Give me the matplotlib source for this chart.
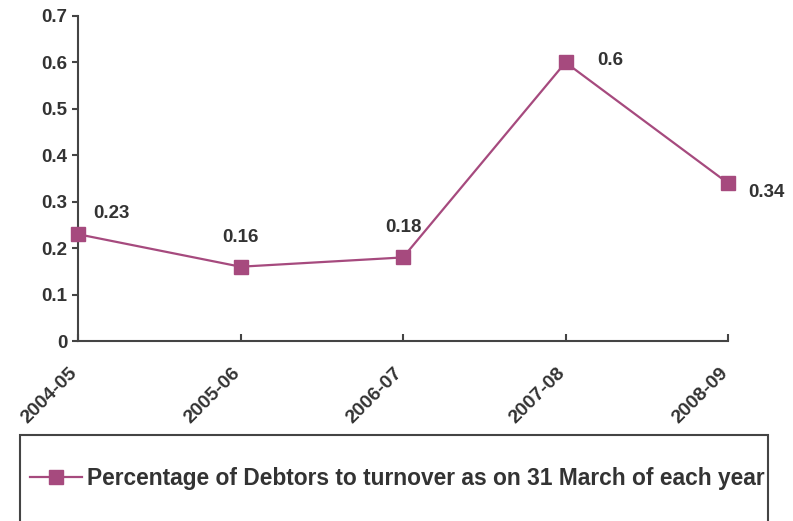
import matplotlib
matplotlib.use("Agg")
import matplotlib.pyplot as plt
from matplotlib.patches import Rectangle
from matplotlib.transforms import ScaledTranslation

years = ["2004-05", "2005-06", "2006-07", "2007-08", "2008-09"]
debtor_pct = [0.23, 0.16, 0.18, 0.6, 0.34]
y_ticks = [0, 0.1, 0.2, 0.3, 0.4, 0.5, 0.6, 0.7]
y_tick_labels = ["0", "0.1", "0.2", "0.3", "0.4", "0.5", "0.6", "0.7"]
series_name = "Percentage of Debtors to turnover as on 31 March of each year"

plt.rcParams["font.family"] = ["Liberation Sans", "DejaVu Sans"]
plt.rcParams["font.weight"] = "bold"

W, H = 793, 521
fig = plt.figure(figsize=(W / 100, H / 100), dpi=100)
ax = fig.add_axes([78 / W, 1 - 341 / H, (728 - 78) / W, (341 - 16) / H])

line_col = "#a64a7e"
text_col = "#333333"
axis_col = "#444444"

x = list(range(len(years)))
ax.plot(x, debtor_pct, color=line_col, lw=1.6, marker="s", markersize=9.5,
        markerfacecolor=line_col, markeredgecolor=line_col,
        label=series_name, clip_on=False, zorder=3)

# value labels next to each point (offsets in points)
offsets = [(11, 12), (0, 18), (0, 18.5), (23, -2), (14.5, -10)]
aligns = ["left", "center", "center", "left", "left"]
for xi, v, off, ha in zip(x, debtor_pct, offsets, aligns):
    ax.annotate(f"{v:g}", (xi, v), xytext=off, textcoords="offset points",
                ha=ha, va="baseline", fontsize=13.5, fontweight="bold",
                color=text_col)

ax.set_xlim(0, len(years) - 1)
ax.set_ylim(0, 0.7)
ax.set_yticks(y_ticks)
ax.set_yticklabels(y_tick_labels)
ax.set_xticks(x)
ax.set_xticklabels(years, rotation=45, ha="right", rotation_mode="anchor")

for s in ["top", "right"]:
    ax.spines[s].set_visible(False)
for s in ["left", "bottom"]:
    ax.spines[s].set_color(axis_col)
    ax.spines[s].set_linewidth(1.5)

ax.tick_params(axis="y", direction="out", length=4.5, width=1.5, color=axis_col,
               labelsize=13.5, labelcolor=text_col, pad=3)
ax.tick_params(axis="x", direction="in", length=5, width=1.5, color=axis_col,
               labelsize=14, labelcolor=text_col, pad=17)

shift = ScaledTranslation(-9 / 100, 0, fig.dpi_scale_trans)
for lbl in ax.get_xticklabels():
    lbl.set_transform(lbl.get_transform() + shift)

# legend box running past the bottom edge
fig.patches.append(Rectangle((20 / W, -0.1), (768 - 20) / W, 0.1 + 1 - 435 / H,
                             transform=fig.transFigure, fill=False,
                             edgecolor=axis_col, linewidth=1.5))
leg = fig.legend(loc="center left", bbox_to_anchor=(30 / W, 1 - 478 / H),
                 frameon=False, fontsize=16.4, handlelength=2.3,
                 handletextpad=0.2, borderaxespad=0, borderpad=0)
for t in leg.get_texts():
    t.set_color(text_col)
    t.set_fontweight("bold")

fig.savefig("out.png", dpi=100)
